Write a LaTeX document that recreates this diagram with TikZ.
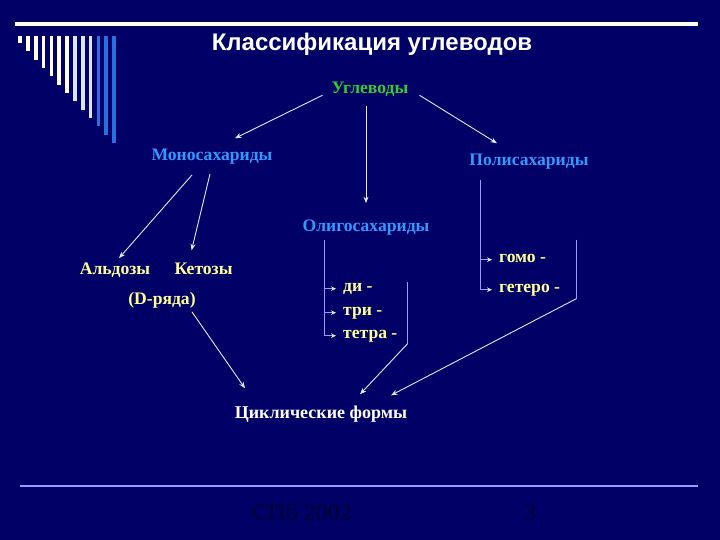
\documentclass[tikz,border=0pt]{standalone}
\usepackage{fontspec}
\setmainfont{Liberation Serif}
\newfontfamily\titlefont{Liberation Sans}
\usepackage{xcolor}
\usetikzlibrary{arrows.meta,positioning}
\definecolor{SlideNavy}{HTML}{000066}
\definecolor{CarbGreen}{HTML}{33CC33}
\definecolor{CarbBlue}{HTML}{3399FF}
\definecolor{CarbCream}{HTML}{FFFF99}
\definecolor{LinkLilac}{HTML}{9999FF}
\definecolor{LinkPale}{HTML}{E6E6FF}
\definecolor{FootDark}{HTML}{000033}
\definecolor{BarIvory}{HTML}{FFFFE8}
\definecolor{BarPale}{HTML}{DCE4FF}
\definecolor{BarBlue}{HTML}{2A6FE0}

\begin{document}
\begin{tikzpicture}[x=1pt,y=-1pt,
  every node/.style={inner sep=1pt,anchor=base},
  head/.style={font=\titlefont\fontsize{24}{28}\selectfont\bfseries,text=white},
  root/.style={font=\fontsize{17.6}{20}\selectfont\bfseries,text=CarbGreen},
  group/.style={font=\fontsize{17.6}{20}\selectfont\bfseries,text=CarbBlue},
  kind/.style={font=\fontsize{17.6}{20}\selectfont\bfseries,text=CarbCream},
  result/.style={font=\fontsize{18}{21}\selectfont\bfseries,text=white},
  foot/.style={font=\fontsize{24}{28}\selectfont,text=FootDark},
  arrow/.style={-{Stealth[length=6.5pt,width=5pt]},line width=0.9pt,color=LinkPale},
  bracket/.style={line width=1.2pt,color=LinkLilac},
  branch/.style={bracket,-{Stealth[length=5pt,width=4.6pt,color=LinkPale]},shorten >=6pt}
]
  % slide frame
  \fill[SlideNavy] (0,0) rectangle (720,540);
  \fill[white] (15,22) rectangle (698,26.5);
  \foreach \i/\c in {0/BarIvory,1/BarIvory,2/BarIvory,3/BarIvory,4/BarIvory,
                     5/BarIvory,6/BarIvory,7/BarPale,8/BarPale,9/BarPale,
                     10/BarBlue,11/BarBlue,12/BarBlue}
    \fill[\c] ({18.2+7.83*\i},36) rectangle ++(3.8,{7+8.33*\i});
  \draw[LinkLilac,line width=1.5pt] (20,486) -- (698,486);

  \node[head] (title) at (372,51) {Классификация углеводов};

  % classes
  \node[root] (carbs) at (370,94) {Углеводы};
  \node[group] (mono) at (212,161) {Моносахариды};
  \node[group] (poly) at (529,166) {Полисахариды};
  \node[group] (oligo) at (366,232) {Олигосахариды};
  \node[kind] (aldo) at (115,274) {Альдозы};
  \node[kind,base right=22pt of aldo] (keto) {Кетозы};
  \node[kind] (dser) at (162,304) {(D-ряда)};
  \node[kind,anchor=base west] (di) at (342,291) {ди -};
  \node[kind,anchor=base west] (tri) at (342,315) {три -};
  \node[kind,anchor=base west] (tetra) at (342,338) {тетра -};
  \node[kind,anchor=base west] (homo) at (498,262) {гомо -};
  \node[kind,anchor=base west] (hetero) at (498,292) {гетеро -};
  \node[result] (cyc) at (321,418) {Циклические формы};

  \node[foot] (place) at (302,520) {СПб 2002};
  \node[foot] (page) at (530,520) {3};

  % links
  \draw[arrow] ([xshift=-8pt,yshift=3pt]carbs.south west) -- ([xshift=23pt,yshift=10pt]mono.north);
  \draw[arrow] ([xshift=10pt,yshift=3pt]carbs.south east) -- ([xshift=-32pt,yshift=10pt]poly.north);
  \coordinate (oligoTop) at ([yshift=16pt]oligo.north);
  \draw[arrow] (carbs.south -| oligoTop) ++(0,8) -- (oligoTop);
  \draw[arrow] ([xshift=-20pt,yshift=-9pt]mono.south) -- ([xshift=4pt,yshift=3pt]aldo.north);
  \draw[arrow] ([xshift=-2pt,yshift=-8pt]mono.south) -- ([xshift=-12pt,yshift=11pt]keto.north);
  \draw[arrow] ([xshift=30pt,yshift=-3pt]dser.south) -- ([xshift=-76pt,yshift=16pt]cyc.north);

  \coordinate (oligoRail) at ([xshift=23pt,yshift=-3pt]oligo.south west);
  \draw[branch] (oligoRail) |- (tetra.mid west);
  \draw[branch] (oligoRail |- di.mid west) -- (di.mid west);
  \draw[branch] (oligoRail |- tri.mid west) -- (tri.mid west);
  \coordinate (oligoCap) at ([xshift=9pt]tetra.mid east);
  \draw[bracket] (oligoCap |- di.north) -- ([yshift=-8pt]oligoCap) coordinate (oligoFoot);
  \draw[arrow] (oligoFoot) -- ([xshift=39pt,yshift=10pt]cyc.north);

  \coordinate (polyRail) at ([xshift=12pt,yshift=-9pt]poly.south west);
  \draw[branch] (polyRail) |- (hetero.mid west);
  \draw[branch] (polyRail |- homo.mid west) -- (homo.mid west);
  \coordinate (polyCap) at ([xshift=15pt]hetero.mid east);
  \draw[bracket] (polyCap |- homo.north) ++(0,-13) -- ([yshift=-9pt]polyCap) coordinate (polyFoot);
  \draw[arrow] (polyFoot) -- ([xshift=70pt,yshift=9pt]cyc.north);
\end{tikzpicture}
\end{document}
